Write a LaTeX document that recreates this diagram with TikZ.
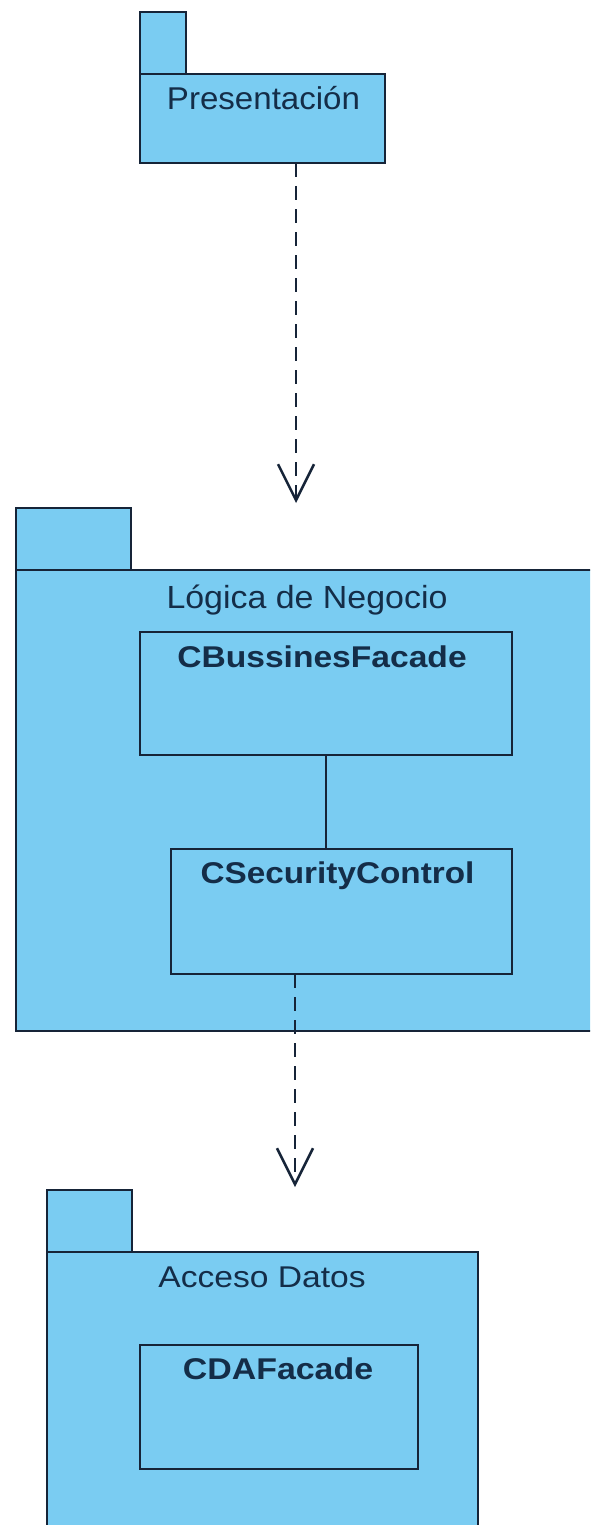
\documentclass[tikz,border=0pt]{standalone}
\usepackage{fontspec}
\setmainfont{Liberation Sans}
\usepackage{graphicx}
\usetikzlibrary{arrows.meta}

\definecolor{pkgfill}{RGB}{122,204,242}
\definecolor{edge}{RGB}{22,36,56}
\definecolor{ink}{RGB}{20,45,72}

\tikzset{
  pkgpart/.style={draw=edge, fill=pkgfill, line width=2.5pt, anchor=north west,
    inner sep=0pt, outer sep=0pt},
  classbox/.style={pkgpart},
  title/.style={anchor=base, text=ink, inner sep=0pt},
  dependency/.style={draw=edge, line width=2.5pt, dash pattern=on 14pt off 9pt,
    -{Straight Barb[length=36pt,width=36pt,line width=2.5pt]}},
  link/.style={draw=edge, line width=2.5pt}
}

\begin{document}
\begin{tikzpicture}[x=1pt, y=-1pt]
  \useasboundingbox[fill=white] (0,0) rectangle (590,1525);
  \clip (0,0) rectangle (590,1525);

  % Presentacion package
  \node[pkgpart, minimum width=46pt, minimum height=62pt] (presTab) at (140,12) {};
  \node[pkgpart, minimum width=245pt, minimum height=89pt] (presBody) at (140,74) {};
  \node[title, font=\fontsize{31.5}{37}\selectfont] (presName) at (263.5,110)
    {\scalebox{1.05}[1]{Presentación}};

  % Logica de Negocio package
  \node[pkgpart, minimum width=115pt, minimum height=62pt] (bizTab) at (16,508) {};
  \node[pkgpart, minimum width=584pt, minimum height=461pt] (bizBody) at (16,570) {};
  \node[title, font=\fontsize{32}{38}\selectfont] (bizName) at (307,608)
    {\scalebox{1.06}[1]{Lógica de Negocio}};

  \node[classbox, minimum width=372pt, minimum height=123pt] (bizFacade) at (140,632) {};
  \node[title, font=\fontsize{30}{36}\selectfont\bfseries] (bizFacadeName) at (322,667)
    {\scalebox{1.12}[1]{CBussinesFacade}};

  \node[classbox, minimum width=341pt, minimum height=125pt] (secCtrl) at (171,849) {};
  \node[title, font=\fontsize{30}{36}\selectfont\bfseries] (secCtrlName) at (337.5,883)
    {\scalebox{1.11}[1]{CSecurityControl}};

  % Acceso Datos package
  \node[pkgpart, minimum width=85pt, minimum height=62pt] (dataTab) at (47,1190) {};
  \node[pkgpart, minimum width=431pt, minimum height=320pt] (dataBody) at (47,1252) {};
  \node[title, font=\fontsize{30}{36}\selectfont] (dataName) at (262,1287)
    {\scalebox{1.12}[1]{Acceso Datos}};

  \node[classbox, minimum width=278pt, minimum height=124pt] (daFacade) at (140,1345) {};
  \node[title, font=\fontsize{30}{36}\selectfont\bfseries] (daFacadeName) at (278,1379)
    {\scalebox{1.13}[1]{CDAFacade}};

  % connectors
  \coordinate (presOut) at ([xshift=33.5pt]presBody.south);
  \coordinate (bizIn) at (296,503);
  \draw[dependency] (presOut) -- (bizIn);

  \draw[link] (bizFacade.south) -- (bizFacade.south |- secCtrl.north);

  \coordinate (secOut) at ([xshift=-46.5pt]secCtrl.south);
  \coordinate (dataIn) at (295,1187);
  \draw[dependency] (secOut) -- (dataIn);
\end{tikzpicture}
\end{document}
